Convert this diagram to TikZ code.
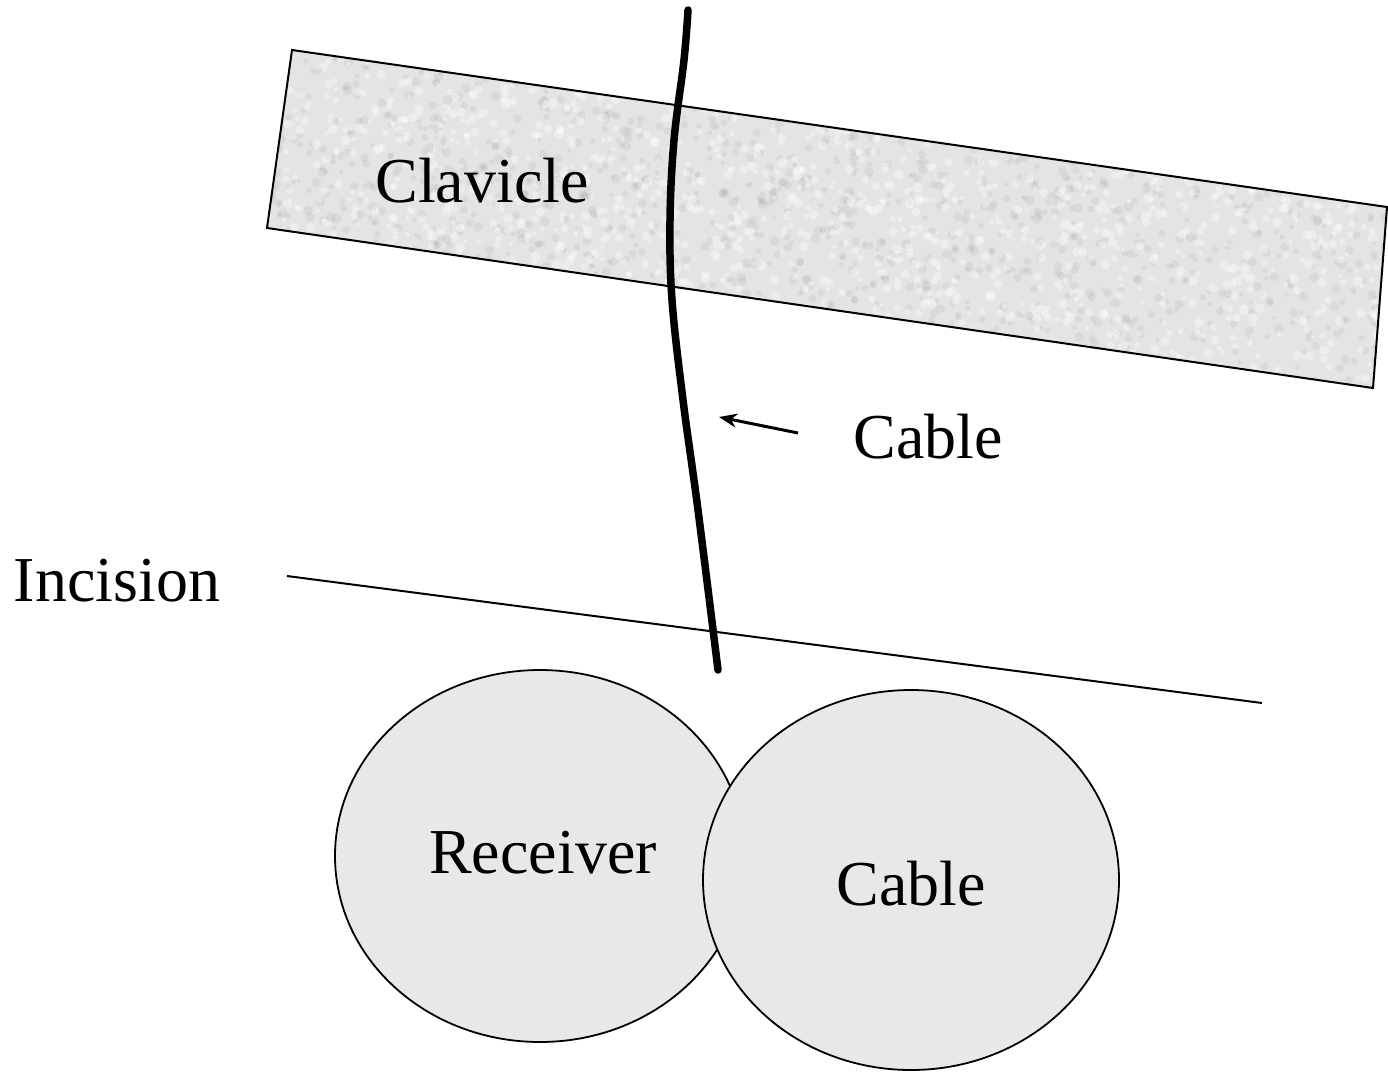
\documentclass[tikz,border=0pt]{standalone}
\usepackage{fontspec}
\setmainfont{Liberation Serif}
\usetikzlibrary{arrows.meta,shapes.geometric}
\definecolor{bonefill}{HTML}{E4E4E4}
\definecolor{bodyfill}{HTML}{E8E8E8}
\tikzset{
  lbl/.style={font=\fontsize{64}{70}\selectfont, inner sep=0pt},
  organ/.style={ellipse, draw=black, line width=1.8pt, fill=bodyfill, inner sep=0pt},
  thin/.style={draw=black, line width=2pt},
  cableline/.style={draw=black, line width=7.5pt, line cap=round},
}
\begin{document}
\begin{tikzpicture}[x=1pt,y=-1pt]
\useasboundingbox (0,0) rectangle (1388,1071);
% clavicle
\fill[bonefill] (292,50) -- (1387,207) -- (1373,388) -- (267,228) -- cycle;
\begin{scope}
\clip (292,50) -- (1387,207) -- (1373,388) -- (267,228) -- cycle;
\pgfmathsetseed{7}
\foreach \i in {1,...,1800}{
  \pgfmathsetmacro{\px}{267+1120*rnd}
  \pgfmathsetmacro{\py}{50+338*rnd}
  \pgfmathsetmacro{\r}{2+3*rnd}
  \fill[black!45!white, opacity=0.12] (\px,\py) circle (\r);
}
\foreach \i in {1,...,1800}{
  \pgfmathsetmacro{\px}{267+1120*rnd}
  \pgfmathsetmacro{\py}{50+338*rnd}
  \pgfmathsetmacro{\r}{2+3*rnd}
  \fill[white, opacity=0.35] (\px,\py) circle (\r);
}
\end{scope}
\draw[thin] (292,50) -- (1387,207) -- (1373,388) -- (267,228) -- cycle;
\node[lbl] (clav) at (482,181) {Clavicle};
% incision
\coordinate (incA) at (287,576);
\coordinate (incB) at (1262,703);
\draw[thin] (incA) -- (incB);
\node[lbl] (inc) at (117,581) {Incision};
% cable
\coordinate (cabTop) at (688,10);
\coordinate (cabEnd) at (718,670);
\draw[cableline] plot[smooth, tension=0.6] coordinates {(688,10) (684,60) (674,140) (670,220) (672,300) (683,400) (698,510) (718,670)};
% receiver and cable
\node[organ, minimum width=410pt, minimum height=372pt] (rec) at (540,856) {};
\node[lbl] (recl) at (543,853) {Receiver};
\node[organ, minimum width=416pt, minimum height=380pt] (cab) at (911,880) {};
\node[lbl] (cabl) at (911,884) {Cable};
% cable label and arrow
\node[lbl] (cablab) at (928,437) {Cable};
\coordinate (arrTail) at (798,433);
\coordinate (arrTip) at (719,417);
\draw[line width=3pt, -{Stealth[length=18pt,width=14pt]}] (arrTail) -- (arrTip);
\end{tikzpicture}
\end{document}
